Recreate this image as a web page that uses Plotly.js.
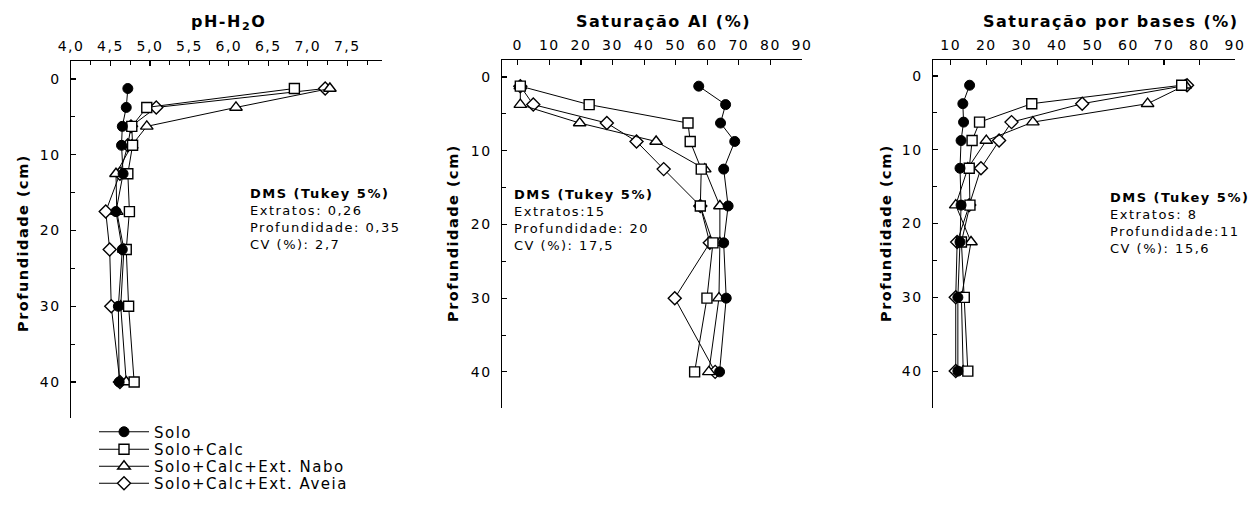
<!DOCTYPE html>
<html>
<head>
<meta charset="utf-8">
<script src="https://cdn.plot.ly/plotly-3.0.1.min.js"></script>
<style>
  html, body { margin: 0; padding: 0; background: #fff; }
  #chart { width: 1248px; height: 506px; }
  text { letter-spacing: 1.5px; }
</style>
</head>
<body>
<div id="chart"></div>
<script>
// ---- data ----
const depth = [1.25, 3.75, 6.25, 8.75, 12.5, 17.5, 22.5, 30, 40];
const seriesNames = ["Solo", "Solo+Calc", "Solo+Calc+Ext. Nabo", "Solo+Calc+Ext. Aveia"];

// pH-H2O
const phSolo  = [4.72, 4.70, 4.65, 4.64, 4.66, 4.57, 4.65, 4.60, 4.61];
const phCalc  = [6.83, 4.96, 4.77, 4.78, 4.72, 4.74, 4.70, 4.73, 4.80];
const phNabo  = [7.28, 6.09, 4.96, 4.77, 4.57, 4.58, 4.67, 4.63, 4.70];
const phAveia = [7.22, 5.08, 4.76, 4.72, 4.62, 4.44, 4.49, 4.51, 4.62];

// Saturação Al (%)
const alSolo  = [57.3, 65.8, 64.2, 68.7, 65.2, 66.6, 65.2, 66.0, 63.9];
const alCalc  = [0.8, 22.6, 53.9, 54.6, 58.1, 57.8, 61.8, 59.9, 56.0];
const alNabo  = [0.8, 0.8, 19.6, 43.8, 59.2, 64.0, 64.0, 63.7, 60.5];
const alAveia = [0.8, 4.9, 28.2, 37.6, 46.2, 57.8, 60.8, 49.7, 62.5];

// Saturação por bases (%)
const vSolo  = [15.3, 13.4, 13.6, 12.9, 12.6, 12.9, 12.6, 12.0, 12.0];
const vCalc  = [75.0, 32.8, 18.1, 16.0, 15.2, 15.4, 13.0, 13.8, 14.8];
const vNabo  = [76.0, 65.4, 33.1, 20.0, 14.8, 11.4, 15.7, 13.0, 13.5];
const vAveia = [76.5, 47.0, 27.1, 23.6, 18.5, 15.2, 11.8, 11.4, 11.4];

// tick labels
const phTickVals = [4.0, 4.5, 5.0, 5.5, 6.0, 6.5, 7.0, 7.5];
const phTickText = ["4,0", "4,5", "5,0", "5,5", "6,0", "6,5", "7,0", "7,5"];
const alTickVals = [0, 10, 20, 30, 40, 50, 60, 70, 80, 90];
const vTickVals  = [10, 20, 30, 40, 50, 60, 70, 80, 90];
const depthTickVals = [0, 10, 20, 30, 40];

const panelTitles = ["pH-H<sub>2</sub>O", "Saturação Al (%)", "Saturação por bases (%)"];
const yTitle = "Profundidade (cm)";
const dmsTexts = [
  "<b>DMS (Tukey 5%)</b><br>Extratos: 0,26<br>Profundidade: 0,35<br>CV (%): 2,7",
  "<b>DMS (Tukey 5%)</b><br>Extratos:15<br>Profundidade: 20<br>CV (%): 17,5",
  "<b>DMS (Tukey 5%)</b><br>Extratos: 8<br>Profundidade:11<br>CV (%): 15,6"
];

// ---- styles ----
const W = 1248, H = 506;
const px = v => v / W;
const py = v => 1 - v / H;
const FONT = "DejaVu Sans, Liberation Sans, Arial, sans-serif";

const markerStyles = [
  {symbol: "circle", size: 10, color: "#000", line: {color: "#000", width: 1}},
  {symbol: "square", size: 10, color: "#fff", line: {color: "#000", width: 1.4}},
  {symbol: "triangle-up", size: 11, color: "#fff", line: {color: "#000", width: 1.4}},
  {symbol: "diamond", size: 10, color: "#fff", line: {color: "#000", width: 1.4}}
];
const legendIds = ["legend", "legend2", "legend3", "legend4"];
const legendRowsY = [432, 449.5, 466.5, 483.5];

const panels = [
  {vals: [phSolo, phCalc, phNabo, phAveia], xa: "x", ya: "y"},
  {vals: [alSolo, alCalc, alNabo, alAveia], xa: "x2", ya: "y2"},
  {vals: [vSolo, vCalc, vNabo, vAveia], xa: "x3", ya: "y3"}
];
const drawOrder = [3, 2, 1, 0]; // Aveia beneath, Solo on top

const traces = [];
panels.forEach((p, pi) => {
  drawOrder.forEach(si => {
    traces.push({
      type: "scatter",
      mode: "lines+markers",
      x: p.vals[si],
      y: depth,
      xaxis: p.xa,
      yaxis: p.ya,
      name: seriesNames[si],
      legend: legendIds[si],
      showlegend: pi === 0,
      line: {color: "#000", width: 1},
      marker: markerStyles[si],
      cliponaxis: false
    });
  });
});

const tickFont = {family: FONT, size: 14, color: "#000"};

function xAxis(domain, range, tickvals, ticktext, anchor, minor) {
  const a = {
    domain: domain, range: range, side: "top", anchor: anchor,
    showline: true, linecolor: "#000", linewidth: 1.5, mirror: false,
    ticks: "inside", ticklen: 5, tickwidth: 1.2, tickcolor: "#000",
    tickvals: tickvals, ticktext: ticktext, tickfont: tickFont,
    ticklabelstandoff: 3,
    showgrid: false, zeroline: false, fixedrange: true, automargin: false
  };
  if (minor) a.minor = minor;
  return a;
}
function yAxis(domain, range, anchor) {
  return {
    domain: domain, range: range, anchor: anchor,
    showline: true, linecolor: "#000", linewidth: 1.5, mirror: false,
    ticks: "inside", ticklen: 5, tickwidth: 1.2, tickcolor: "#000",
    tickvals: depthTickVals, tickfont: tickFont,
    ticklabelstandoff: 6,
    minor: {tickvals: [5, 15, 25, 35], ticks: "inside", ticklen: 4, tickwidth: 1, tickcolor: "#000", showgrid: false},
    showgrid: false, zeroline: false, fixedrange: true, automargin: false
  };
}

const layout = {
  width: W, height: H, autosize: false,
  margin: {l: 0, r: 0, t: 0, b: 0, autoexpand: false},
  paper_bgcolor: "#fff", plot_bgcolor: "rgba(0,0,0,0)",
  font: {family: FONT, color: "#000"},
  xaxis:  xAxis([px(71), px(382)], [4, 7.94], phTickVals, phTickText, "y",
                {dtick: 0.25, ticks: "inside", ticklen: 4, tickwidth: 1, tickcolor: "#000", showgrid: false}),
  yaxis:  yAxis([py(418), py(61)], [44.75, -2.38], "x"),
  xaxis2: xAxis([px(502), px(802)], [-5, 90], alTickVals, alTickVals.map(String), "y2"),
  yaxis2: yAxis([py(408), py(60)], [44.9, -2.3], "x2"),
  xaxis3: xAxis([px(933), px(1235)], [5, 90], vTickVals, vTickVals.map(String), "y3"),
  yaxis3: yAxis([py(408), py(60)], [45, -2.17], "x3"),
  showlegend: true,
  annotations: [
    {text: panelTitles[0], x: px(228), y: py(23), xanchor: "center", yanchor: "middle"},
    {text: panelTitles[1], x: px(663), y: py(22), xanchor: "center", yanchor: "middle"},
    {text: panelTitles[2], x: px(1111), y: py(22), xanchor: "center", yanchor: "middle"},
  ].map(a => Object.assign(a, {xref: "paper", yref: "paper", showarrow: false,
        font: {family: FONT, size: 16, color: "#000"}}))
  .map(a => { a.text = "<b>" + a.text + "</b>"; return a; })
  .concat([
    {x: px(23), y: py(243)},
    {x: px(453), y: py(233)},
    {x: px(886), y: py(233)}
  ].map(a => Object.assign(a, {text: "<b>" + yTitle + "</b>", textangle: -90,
        xref: "paper", yref: "paper", showarrow: false, xanchor: "center", yanchor: "middle",
        font: {family: FONT, size: 14.5, color: "#000"}})))
  .concat([
    {x: px(248), y: py(184), text: dmsTexts[0]},
    {x: px(512), y: py(185), text: dmsTexts[1]},
    {x: px(1108), y: py(188), text: dmsTexts[2]}
  ].map(a => Object.assign(a, {xref: "paper", yref: "paper", showarrow: false,
        xanchor: "left", yanchor: "top", align: "left",
        font: {family: FONT, size: 13, color: "#000"}})))
};

legendIds.forEach((id, i) => {
  layout[id] = {
    x: px(94), y: py(legendRowsY[i]), xanchor: "left", yanchor: "middle",
    font: {family: FONT, size: 15, color: "#000"},
    bgcolor: "rgba(0,0,0,0)", borderwidth: 0,
    itemwidth: 50, tracegroupgap: 0, itemclick: false, itemdoubleclick: false
  };
});

Plotly.newPlot("chart", traces, layout, {displayModeBar: false, staticPlot: true});
</script>
</body>
</html>
